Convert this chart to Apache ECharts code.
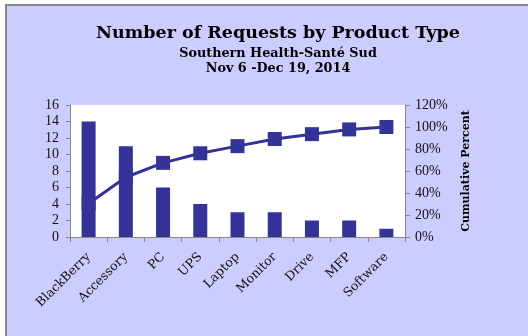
<!DOCTYPE html>
<html><head><meta charset="utf-8">
<script src="https://cdn.jsdelivr.net/npm/echarts@6/dist/echarts.min.js"></script>
<style>
html,body{margin:0;padding:0;width:528px;height:336px;overflow:hidden;background:#CCCCFF;}
#top{position:absolute;left:0;top:0;width:528px;height:4px;background:#fff;}
#leftw{position:absolute;left:0;top:0;width:5px;height:336px;background:#fff;}
#bt{position:absolute;left:5px;top:4px;width:523px;height:2px;background:#888;}
#bl{position:absolute;left:5px;top:4px;width:2px;height:332px;background:#888;}
#c{position:absolute;left:0;top:0;width:528px;height:336px;}
</style></head>
<body>
<div id="top"></div><div id="leftw"></div><div id="bt"></div><div id="bl"></div>
<div id="c"></div>
<script>
var categories = ["BlackBerry","Accessory","PC","UPS","Laptop","Monitor","Drive","MFP","Software"];
var requests = [14, 11, 6, 4, 3, 3, 2, 2, 1];
var cumulativePct = [0.304, 0.543, 0.674, 0.761, 0.826, 0.891, 0.935, 0.978, 1.0];
var leftTicks = {min: 0, max: 16, interval: 2};
var rightTicks = {min: 0, max: 1.2, interval: 0.2};

var serif = '"Liberation Serif", serif';
var wide = '"DejaVu Serif", serif';
var chart = echarts.init(document.getElementById('c'), null, {renderer: 'canvas'});
chart.setOption({
  backgroundColor: 'transparent',
  animation: false,
  title: [
    {text: 'Number of Requests by Product Type', left: 273, textAlign: 'center', top: 19,
     textStyle: {fontFamily: wide, fontWeight: 'bold', fontSize: 17.5, color: '#000'}},
    {text: 'Southern Health-Santé Sud', left: 273, textAlign: 'center', top: 42,
     textStyle: {fontFamily: wide, fontWeight: 'bold', fontSize: 12.8, color: '#000'}},
    {text: 'Nov 6 -Dec 19, 2014', left: 273, textAlign: 'center', top: 57,
     textStyle: {fontFamily: wide, fontWeight: 'bold', fontSize: 12.8, color: '#000'}}
  ],
  grid: {left: 70, right: 123, top: 105, bottom: 99, show: true, backgroundColor: '#fff', borderWidth: 0},
  xAxis: {
    type: 'category', data: categories, boundaryGap: true,
    axisLine: {lineStyle: {color: '#868686', width: 1}},
    axisTick: {show: true, alignWithLabel: false, length: 5, lineStyle: {color: '#868686'}},
    axisLabel: {rotate: 45, interval: 0, margin: 18, fontFamily: wide, fontSize: 12.5, color: '#111'}
  },
  yAxis: [
    {type: 'value', min: leftTicks.min, max: leftTicks.max, interval: leftTicks.interval,
     splitLine: {show: false},
     axisLine: {show: true, lineStyle: {color: '#868686'}},
     axisTick: {show: true, length: 4, lineStyle: {color: '#868686'}},
     axisLabel: {margin: 11, fontFamily: serif, fontSize: 14, color: '#111'}},
    {type: 'value', position: 'right', min: rightTicks.min, max: rightTicks.max, interval: rightTicks.interval,
     splitLine: {show: false},
     axisLine: {show: true, lineStyle: {color: '#868686'}},
     axisTick: {show: true, length: 5, lineStyle: {color: '#868686'}},
     axisLabel: {margin: 10, fontFamily: serif, fontSize: 14, color: '#111',
       formatter: function (v) { return Math.round(v * 100) + '%'; }},
     name: 'Cumulative Percent', nameLocation: 'middle', nameRotate: 90, nameGap: 56,
     nameTextStyle: {fontFamily: wide, fontWeight: 'bold', fontSize: 11, color: '#000'}}
  ],
  series: [
    {type: 'bar', data: requests, barWidth: 14, itemStyle: {color: '#333399'}, yAxisIndex: 0},
    {type: 'line', data: cumulativePct, yAxisIndex: 1, symbol: 'rect', symbolSize: 14,
     lineStyle: {color: '#333399', width: 3}, itemStyle: {color: '#333399'}}
  ]
});
</script>
</body></html>
